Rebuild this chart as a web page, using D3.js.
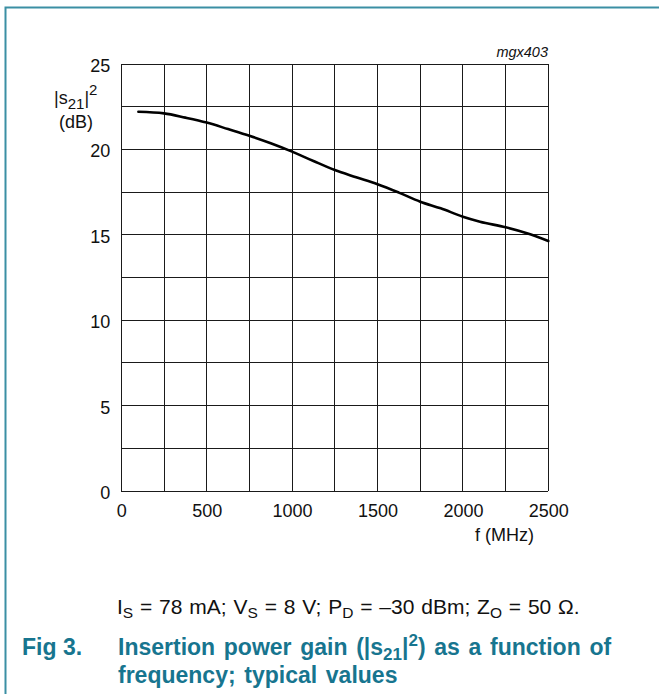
<!DOCTYPE html>
<html>
<head>
<meta charset="utf-8">
<script src="https://cdn.jsdelivr.net/npm/d3@7/dist/d3.min.js"></script>
<style>
  html, body { margin: 0; padding: 0; background: #fff; }
  svg { display: block; font-family: Arial, "Liberation Sans", Helvetica, sans-serif; }
</style>
</head>
<body>
<svg id="chart" width="659" height="694"></svg>
<script>
// Insertion power gain |s21|^2 versus frequency (typical values)
const freqMHz = [100, 250, 375, 500, 625, 750, 875, 1000, 1125, 1250, 1375, 1500, 1625, 1750, 1870, 2000, 2100, 2250, 2375, 2500];
const gainDb  = [22.2, 22.11, 21.86, 21.57, 21.19, 20.80, 20.36, 19.87, 19.32, 18.79, 18.37, 17.96, 17.47, 16.94, 16.55, 16.06, 15.77, 15.44, 15.09, 14.64];

const xTickLabels = [0, 500, 1000, 1500, 2000, 2500];
const yTickLabels = [0, 5, 10, 15, 20, 25];
const xGrid = d3.range(0, 2501, 250);
const yGrid = d3.range(0, 25.01, 2.5);

const teal = "#17758f";
const frame = "#3b8fa4";

const svg = d3.select("#chart");

// outer frame (open to the right and bottom)
svg.append("path")
  .attr("d", "M5.5,694 L5.5,7.5 L659,7.5")
  .attr("fill", "none")
  .attr("stroke", frame)
  .attr("stroke-width", 2);

const x = d3.scaleLinear().domain([0, 2500]).range([121.3, 548.3]);
const y = d3.scaleLinear().domain([0, 25]).range([491, 64]);

// grid
const grid = svg.append("g").attr("stroke", "#1a1a1a").attr("stroke-width", 1).attr("shape-rendering", "crispEdges");
grid.selectAll("line.v").data(xGrid).join("line")
  .attr("x1", d => x(d)).attr("x2", d => x(d))
  .attr("y1", y(0)).attr("y2", y(25));
grid.selectAll("line.h").data(yGrid).join("line")
  .attr("x1", x(0)).attr("x2", x(2500))
  .attr("y1", d => y(d)).attr("y2", d => y(d));

// axes: labels only
const xAxis = svg.append("g")
  .attr("transform", `translate(0,${y(0)})`)
  .call(d3.axisBottom(x).tickValues(xTickLabels).tickSize(0).tickPadding(13.5).tickFormat(d3.format("d")));
xAxis.select(".domain").remove();
xAxis.selectAll("text").attr("font-size", 18).attr("fill", "#111").attr("font-family", null);

const yAxis = svg.append("g")
  .attr("transform", `translate(${x(0)},0)`)
  .call(d3.axisLeft(y).tickValues(yTickLabels).tickSize(0).tickPadding(11).tickFormat(d3.format("d")));
yAxis.select(".domain").remove();
yAxis.selectAll("text").attr("font-size", 18).attr("dy", "0.42em").attr("fill", "#111").attr("font-family", null);

// curve
const line = d3.line()
  .x((d, i) => x(freqMHz[i]))
  .y(d => y(d))
  .curve(d3.curveMonotoneX);
svg.append("path")
  .datum(gainDb)
  .attr("d", line)
  .attr("fill", "none")
  .attr("stroke", "#000")
  .attr("stroke-width", 2.6)
  .attr("stroke-linejoin", "round")
  .attr("stroke-linecap", "round");

// drawing code
svg.append("text")
  .attr("x", 548).attr("y", 57)
  .attr("text-anchor", "end")
  .attr("font-size", 14.5)
  .attr("font-style", "italic")
  .attr("fill", "#111")
  .text("mgx403");

// y axis title
const yt = svg.append("text")
  .attr("x", 54).attr("y", 104)
  .attr("font-size", 18)
  .attr("fill", "#111");
yt.append("tspan").text("|s");
yt.append("tspan").attr("dy", 4.5).attr("font-size", 15).text("21");
yt.append("tspan").attr("dy", -4.5).text("|");
yt.append("tspan").attr("dy", -9).attr("font-size", 15).text("2");
svg.append("text")
  .attr("x", 76).attr("y", 128)
  .attr("text-anchor", "middle")
  .attr("font-size", 18)
  .attr("fill", "#111")
  .text("(dB)");

// x axis title
svg.append("text")
  .attr("x", 534).attr("y", 541)
  .attr("text-anchor", "end")
  .attr("font-size", 18)
  .attr("fill", "#111")
  .text("f (MHz)");

// conditions line
const cond = svg.append("text")
  .attr("x", 117).attr("y", 614)
  .attr("font-size", 21)
  .attr("word-spacing", 1)
  .attr("fill", "#111");
const sub = (t) => cond.append("tspan").attr("dy", 4).attr("font-size", 15.5).text(t);
const back = (t) => cond.append("tspan").attr("dy", -4).text(t);
cond.append("tspan").text("I");
sub("S"); back(" = 78 mA; V");
sub("S"); back(" = 8 V; P");
sub("D"); back(" = \u201330 dBm; Z");
sub("O"); back(" = 50 \u03A9.");

// caption
svg.append("text")
  .attr("x", 22).attr("y", 655)
  .attr("font-size", 23)
  .attr("font-weight", "bold")
  .attr("fill", teal)
  .text("Fig 3.");
const cap = svg.append("text")
  .attr("x", 118).attr("y", 655)
  .attr("font-size", 23)
  .attr("font-weight", "bold")
  .attr("word-spacing", 2.3)
  .attr("fill", teal);
cap.append("tspan").text("Insertion power gain (|s");
cap.append("tspan").attr("dy", 5).attr("font-size", 17).text("21");
cap.append("tspan").attr("dy", -5).text("|");
cap.append("tspan").attr("dy", -9).attr("font-size", 17).text("2");
cap.append("tspan").attr("dy", 9).text(") as a function of");
svg.append("text")
  .attr("x", 118).attr("y", 683)
  .attr("font-size", 23)
  .attr("font-weight", "bold")
  .attr("word-spacing", 2.3)
  .attr("fill", teal)
  .text("frequency; typical values");
</script>
</body>
</html>
